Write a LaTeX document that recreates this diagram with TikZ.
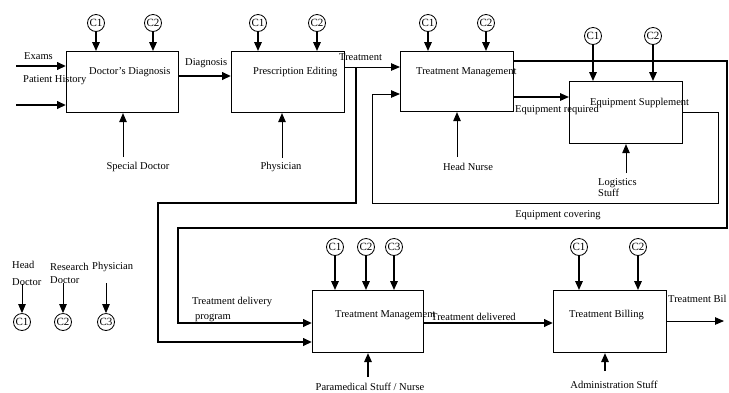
\documentclass[tikz,border=0pt]{standalone}
\usepackage{fontspec}
\setmainfont{Liberation Serif}
\usetikzlibrary{arrows.meta}
\begin{document}
\begin{tikzpicture}[x=1pt,y=-1pt,
  font=\fontsize{10.5}{11.5}\selectfont,
  box/.style={draw, line width=1.1pt, inner sep=0pt, anchor=north west,
    minimum width=#1},
  box/.default=113pt,
  ctrl/.style={draw, circle, line width=0.8pt, minimum size=17pt, inner sep=0pt,
    font=\fontsize{11}{11}\selectfont},
  tip/.style={-{Triangle[length=9pt,width=7.5pt]}},
  heavy/.style={line width=2.2pt},
  medium/.style={line width=1.6pt},
  light/.style={line width=0.9pt},
  lbl/.style={inner sep=0pt, anchor=west},
  clbl/.style={inner sep=0pt},
  feed/.style={medium, tip}
]
\useasboundingbox (0,0) rectangle (729,392);

% ---- activity boxes ----
\node[box=112pt, minimum height=61pt] (dd)  at (66,51)  {};
\node[box=113pt, minimum height=61pt] (pe)  at (231,51) {};
\node[box=113pt, minimum height=60pt] (tm)  at (400,51) {};
\node[box=113pt, minimum height=62pt] (es)  at (569,81) {};
\node[box=111pt, minimum height=62pt] (tm2) at (312,290) {};
\node[box=113pt, minimum height=62pt] (tb)  at (553,290) {};

% ---- box titles ----
\node[lbl] (ddt)  at (89,72)   {Doctor's Diagnosis};
\node[lbl] (pet)  at (253,72)  {Prescription Editing};
\node[lbl] (tmt)  at (416,72)  {Treatment Management};
\node[lbl] (est)  at (590,103) {Equipment Supplement};
\node[lbl] (tm2t) at (335,315) {Treatment Management};
\node[lbl] (tbt)  at (569,315) {Treatment Billing};

% ---- control circles and their arrows ----
\foreach \b/\cx/\cy/\k in {dd/96/23/1, dd/153/23/2, pe/258/23/1, pe/317/23/2,
    tm/428/23/1, tm/486/23/2, es/593/36/1, es/653/36/2,
    tm2/335/247/1, tm2/366/247/2, tm2/394/247/3, tb/579/247/1, tb/638/247/2} {
  \node[ctrl] (\b-c\k) at (\cx,\cy) {C\k};
  \draw[feed] (\b-c\k.south) -- (\b-c\k.south |- \b.north);
}

% ---- inputs of the diagnosis box ----
\coordinate (in1) at (16,66);
\coordinate (in2) at (16,105);
\draw[heavy, tip] (in1) -- (in1 -| dd.west);
\draw[heavy, tip] (in2) -- (in2 -| dd.west);
\node[lbl] (exams) at (24,56) {Exams};
\node[lbl] (hist)  at (23,80) {Patient History};

% ---- diagnosis ----
\coordinate (dg) at (178,76);
\draw[heavy, tip] (dg) -- (dg -| pe.west);
\node[lbl] (dgl) at (185,63) {Diagnosis};

% ---- treatment ----
\coordinate (tr) at (344,67);
\draw[light, tip] (tr) -- (tr -| tm.west);
\node[lbl] (trl) at (339,57) {Treatment};
\coordinate (trb) at (356,67);
\coordinate (tmin2) at (158,342);
\draw[heavy, tip] (trb) -- (356,203) -- (158,203) -- (tmin2) -- (tmin2 -| tm2.west);

% ---- treatment delivery program loop ----
\coordinate (tmout) at (513,61);
\coordinate (tmin1) at (178,323);
\draw[heavy, tip] (tmout) -- (727,61) -- (727,228) -- (178,228) -- (tmin1) -- (tmin1 -| tm2.west);
\node[lbl] (tdp1) at (192,302) {Treatment delivery};
\node[lbl] (tdp2) at (195,318) {program};

% ---- equipment required ----
\coordinate (eq) at (513,97);
\draw[medium, tip] (eq) -- (eq -| es.west);
\node[lbl] (eql) at (515,110) {Equipment required};

% ---- equipment covering loop ----
\coordinate (esout) at (682,112);
\coordinate (tmback) at (372,94);
\draw[light, tip] (esout) -- (718,112) -- (718,203) -- (372,203) -- (tmback) -- (tmback -| tm.west);
\node[clbl] (ecl) at (558,215) {Equipment covering};

% ---- mechanisms ----
\coordinate (m1) at (123,157);
\draw[light, tip] (m1) -- (m1 |- dd.south);
\node[clbl] (m1l) at (138,167) {Special Doctor};
\coordinate (m2) at (282,158);
\draw[light, tip] (m2) -- (m2 |- pe.south);
\node[clbl] (m2l) at (281,167) {Physician};
\coordinate (m3) at (457,157);
\draw[light, tip] (m3) -- (m3 |- tm.south);
\node[clbl] (m3l) at (468,167) {Head Nurse};
\coordinate (m4) at (626,173);
\draw[light, tip] (m4) -- (m4 |- es.south);
\node[lbl] (m4a) at (598,183) {Logistics};
\node[lbl] (m4b) at (598,193) {Stuff};
\coordinate (m5) at (368,377);
\draw[medium, tip] (m5) -- (m5 |- tm2.south);
\node[clbl] (m5l) at (370,387) {Paramedical Stuff / Nurse};
\coordinate (m6) at (605,371);
\draw[medium, tip] (m6) -- (m6 |- tb.south);
\node[clbl] (m6l) at (614,385) {Administration Stuff};

% ---- treatment delivered and billing ----
\coordinate (td) at (423,323);
\draw[heavy, tip] (td) -- (td -| tb.west);
\node[lbl] (tdl) at (431,317) {Treatment delivered};
\coordinate (bill) at (666,321);
\coordinate (billend) at (724,321);
\draw[light, tip] (bill) -- (billend);
\node[lbl] (billl) at (668,299) {Treatment Bil};

% ---- legend of controls ----
\node[lbl] (lg1a) at (12,265) {Head};
\node[lbl] (lg1b) at (12,282) {Doctor};
\node[lbl] (lg2a) at (50,267) {Research};
\node[lbl] (lg2b) at (50,280) {Doctor};
\node[lbl] (lg3)  at (92,267) {Physician};
\foreach \k/\cx in {1/22, 2/63, 3/106} {
  \node[ctrl] (lc\k) at (\cx,322) {C\k};
}
\coordinate (lt1) at (22,284);
\coordinate (lt2) at (63,283);
\coordinate (lt3) at (106,283);
\draw[light, tip] (lt1) -- (lc1.north);
\draw[light, tip] (lt2) -- (lc2.north);
\draw[light, tip] (lt3) -- (lc3.north);
\end{tikzpicture}
\end{document}
